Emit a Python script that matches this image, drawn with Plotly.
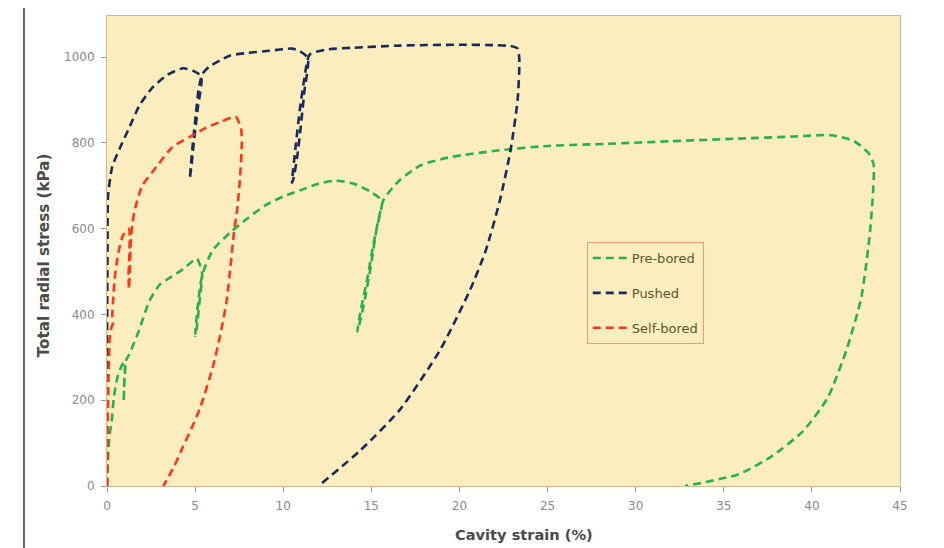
import plotly.graph_objects as go

# ---- data ----
pre_x = [0, 0.05, 0.15, 0.25, 0.4, 0.6, 0.85, 1.0, 0.98, 0.95,
         0.97, 1.05, 1.1, 1.25, 1.8, 2.4, 3.0, 3.5, 4.3, 5.1,
         5.4, 5.3, 5.2, 5.1, 5.0, 5.15, 5.3, 5.45, 6.0, 7.1,
         8.0, 9.0, 10.0, 11.0, 12.0, 13.0, 14.0, 15.0, 15.6, 15.3,
         15.0, 14.7, 14.4, 14.2, 14.4, 14.8, 15.1, 15.4, 15.7, 16.6,
         17.8, 19.5, 22.3, 25.0, 28.4, 32.0, 35.8, 39.0, 41.1, 42.4,
         43.2, 43.5, 43.3, 42.8, 42.0, 40.9, 39.5, 37.6, 35.8, 32.8]
pre_y = [0, 60, 120, 145, 210, 255, 282, 290, 240, 196,
         230, 280, 295, 306, 361, 431, 470, 484, 505, 530,
         495, 450, 410, 370, 350, 420, 470, 498, 550, 595,
         625, 655, 675, 690, 705, 712, 705, 685, 665, 600,
         520, 450, 390, 360, 410, 490, 560, 620, 668, 713,
         748, 767, 783, 793, 798, 804, 810, 815, 818, 804,
         777, 750, 594, 439, 322, 206, 128, 66, 27, 0]

push_x = [0, 0, 0.03, 0.06, 0.3, 0.72, 1.2, 1.85, 2.6, 3.4,
          4.3, 4.9, 5.35, 5.15, 4.95, 4.8, 4.7, 4.85, 5.05, 5.2,
          5.4, 5.8, 6.4, 7.0, 8.0, 9.2, 10.5, 10.9, 11.4, 11.2,
          11.0, 10.8, 10.6, 10.5, 10.7, 10.95, 11.2, 11.5, 12.5, 14.0,
          16.6, 20.0, 22.0, 22.9, 23.3, 23.4, 23.3, 22.9, 22.3, 21.5,
          20.6, 18.9, 16.6, 14.4, 12.0]
push_y = [0, 300, 550, 677, 745, 787, 830, 888, 930, 958,
          974, 968, 955, 880, 810, 750, 716, 790, 870, 925,
          960, 978, 992, 1004, 1010, 1015, 1020, 1015, 998, 920,
          840, 770, 720, 707, 790, 880, 950, 1006, 1018, 1022,
          1027, 1029, 1028, 1026, 1020, 993, 900, 783, 667, 550,
          457, 317, 177, 84, 0]

self_x = [0, 0.03, 0.06, 0.1, 0.15, 0.25, 0.34, 0.3, 0.36, 0.43,
          0.55, 0.7, 0.9, 1.1, 1.25, 1.27, 1.22, 1.25, 1.3, 1.35,
          1.45, 1.6, 2.0, 2.8, 3.7, 4.7, 5.6, 6.5, 7.3, 7.6,
          7.65, 7.55, 7.4, 7.2, 7.0, 6.8, 6.4, 6.0, 5.3, 4.8,
          4.3, 3.8, 3.2]
self_y = [0, 100, 200, 280, 340, 370, 380, 400, 440, 482,
          520, 555, 584, 595, 600, 540, 490, 459, 510, 570,
          615, 648, 700, 744, 790, 814, 835, 850, 861, 834,
          800, 720, 650, 590, 510, 434, 347, 277, 184, 135,
          91, 45, 0]

series_names = ["Pre-bored", "Pushed", "Self-bored"]
series_colors = ["#26B14A", "#1B2A5C", "#FF3618"]
x_ticks = [0, 5, 10, 15, 20, 25, 30, 35, 40, 45]
y_ticks = [0, 200, 400, 600, 800, 1000]
x_title = "Cavity strain (%)"
y_title = "Total radial stress (kPa)"

BG = "#FCEDBF"
FONT = "DejaVu Sans, Verdana, sans-serif"

fig = go.Figure()
for name, xs, ys, col in zip(series_names, [pre_x, push_x, self_x],
                             [pre_y, push_y, self_y], series_colors):
    fig.add_trace(go.Scatter(
        x=xs, y=ys, mode="lines", name=name, legendgroup=name,
        line=dict(color=col, width=2.6, dash="8px,5px", shape="spline", smoothing=0.6),
    ))

fig.update_layout(
    width=936, height=540,
    margin=dict(l=99, r=44, t=8, b=62),
    paper_bgcolor="white",
    plot_bgcolor=BG,
    font=dict(family=FONT, color="#555555"),
    showlegend=True,
    legend=dict(
        x=0.605, y=0.519, xanchor="left", yanchor="top",
        bgcolor=BG, bordercolor="#F59A6A", borderwidth=1,
        font=dict(family=FONT, size=13, color="#5A5530"),
        tracegroupgap=15,
        itemwidth=34,
        entrywidth=78,
    ),
    shapes=[dict(type="line", xref="paper", yref="paper",
                 x0=-0.1047, x1=-0.1047, y0=-0.2, y1=1.05,
                 line=dict(color="#666666", width=2))],
    annotations=[
        dict(text="<b>" + x_title + "</b>", xref="paper", yref="paper",
             x=0.526, y=-0.104, xanchor="center", yanchor="middle", showarrow=False,
             font=dict(family=FONT, size=14.6, color="#4A4A4A")),
        dict(text="<b>" + y_title + "</b>", xref="paper", yref="paper",
             x=-0.0794, y=0.491, xanchor="center", yanchor="middle", showarrow=False,
             textangle=-90, font=dict(family=FONT, size=15.2, color="#4A4A4A")),
    ],
)

fig.update_xaxes(
    range=[0, 45], tickvals=x_ticks, ticks="outside", ticklen=5,
    tickcolor="#999999", showgrid=False, zeroline=False,
    showline=True, linecolor="#C9BB8A", linewidth=1, mirror=True,
    tickfont=dict(family=FONT, size=12, color="#8A8A8A"),
    ticklabelstandoff=4,
)
fig.update_yaxes(
    range=[0, 1096], tickvals=y_ticks, ticks="outside", ticklen=5,
    tickcolor="#999999", showgrid=False, zeroline=False,
    showline=True, linecolor="#C9BB8A", linewidth=1, mirror=True,
    tickfont=dict(family=FONT, size=12, color="#8A8A8A"),
    ticklabelstandoff=4,
)

fig.write_html("out.html")
